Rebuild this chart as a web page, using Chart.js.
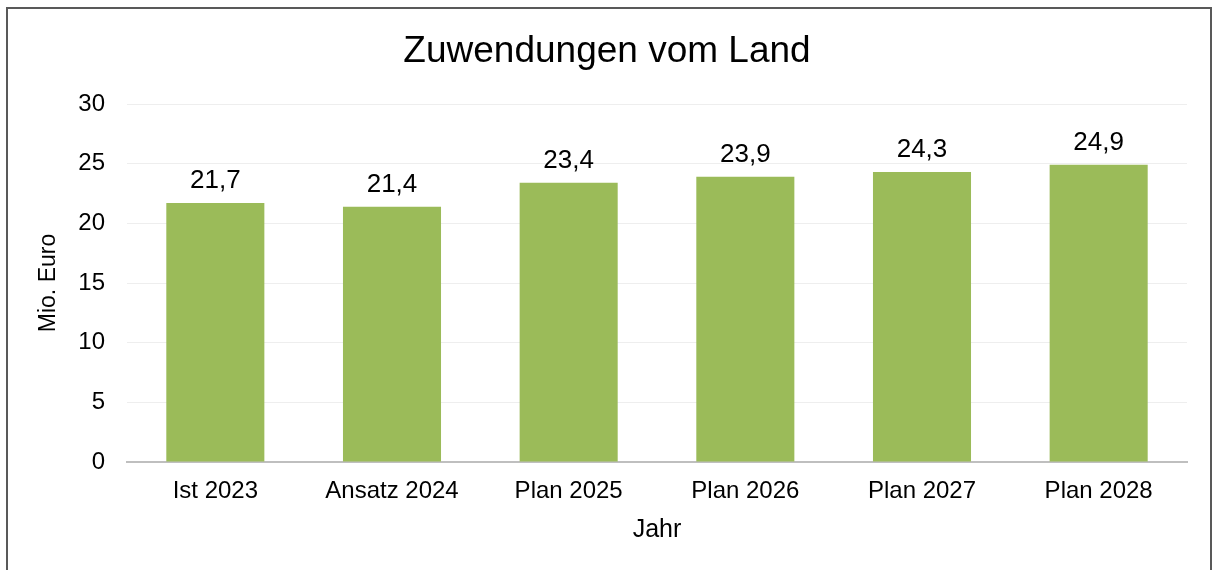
<!DOCTYPE html>
<html>
<head>
<meta charset="utf-8">
<script src="https://cdn.jsdelivr.net/npm/chart.js@4"></script>
<style>
  html, body { margin: 0; padding: 0; background: #fff; }
  body { width: 1213px; height: 570px; overflow: hidden; position: relative; }
  #frame { position: absolute; left: 6px; top: 7px; width: 1206px; height: 600px; border: 2px solid #595959; box-sizing: border-box; }
  #wrap { position: absolute; left: 0; top: 0; width: 1213px; height: 570px; }
</style>
</head>
<body>
<div id="frame"></div>
<div id="wrap"><canvas id="chart"></canvas></div>
<script>
// data
const categories = ['Ist 2023', 'Ansatz 2024', 'Plan 2025', 'Plan 2026', 'Plan 2027', 'Plan 2028'];
const values = [21.7, 21.4, 23.4, 23.9, 24.3, 24.9];
const yTicks = [0, 5, 10, 15, 20, 25, 30];

const FONT = '"Liberation Sans", Arial, sans-serif';

// value labels above bars, comma decimal
const barLabels = {
  id: 'barLabels',
  afterDatasetsDraw(chart){
    const ctx = chart.ctx;
    const meta = chart.getDatasetMeta(0);
    ctx.save();
    ctx.font = '26px ' + FONT;
    ctx.fillStyle = '#000';
    ctx.textAlign = 'center';
    ctx.textBaseline = 'middle';
    meta.data.forEach((bar, i) => {
      ctx.fillText(values[i].toFixed(1).replace('.', ','), bar.x, bar.y - 22);
    });
    ctx.restore();
  }
};

new Chart(document.getElementById('chart').getContext('2d'), {
  type: 'bar',
  data: {
    labels: categories,
    datasets: [{
      label: 'Zuwendungen',
      data: values,
      backgroundColor: '#9bbb59',
      barPercentage: 0.555,
      categoryPercentage: 1.0
    }]
  },
  options: {
    responsive: true,
    maintainAspectRatio: false,
    animation: false,
    layout: { padding: { left: 27, right: 26, top: 0, bottom: 18 } },
    plugins: {
      legend: { display: false },
      tooltip: { enabled: false },
      title: {
        display: true,
        text: 'Zuwendungen vom Land',
        color: '#000',
        font: { family: FONT, size: 37, weight: 'normal', lineHeight: 1.2 },
        padding: { top: 30, bottom: 29.6 }
      }
    },
    scales: {
      x: {
        grid: { display: false, drawTicks: false },
        border: { display: true, color: '#bfbfbf', width: 2 },
        ticks: { color: '#000', font: { family: FONT, size: 24 }, padding: 15 },
        title: { display: true, text: 'Jahr', color: '#000', font: { family: FONT, size: 25 }, padding: { top: 4, bottom: 7 } },
        afterFit(scale){ scale.height = 90; }
      },
      y: {
        min: 0, max: 30,
        afterBuildTicks(scale){ scale.ticks = yTicks.map(v => ({ value: v })); },
        grid: { color: '#eeeeee', lineWidth: 1, drawTicks: false },
        border: { display: false },
        ticks: { color: '#000', font: { family: FONT, size: 24 }, padding: 22 },
        title: { display: true, text: 'Mio. Euro', color: '#000', font: { family: FONT, size: 23 }, padding: { top: 8, bottom: 0 } },
        afterFit(scale){ scale.width = 100; }
      }
    }
  },
  plugins: [barLabels]
});
</script>
</body>
</html>
